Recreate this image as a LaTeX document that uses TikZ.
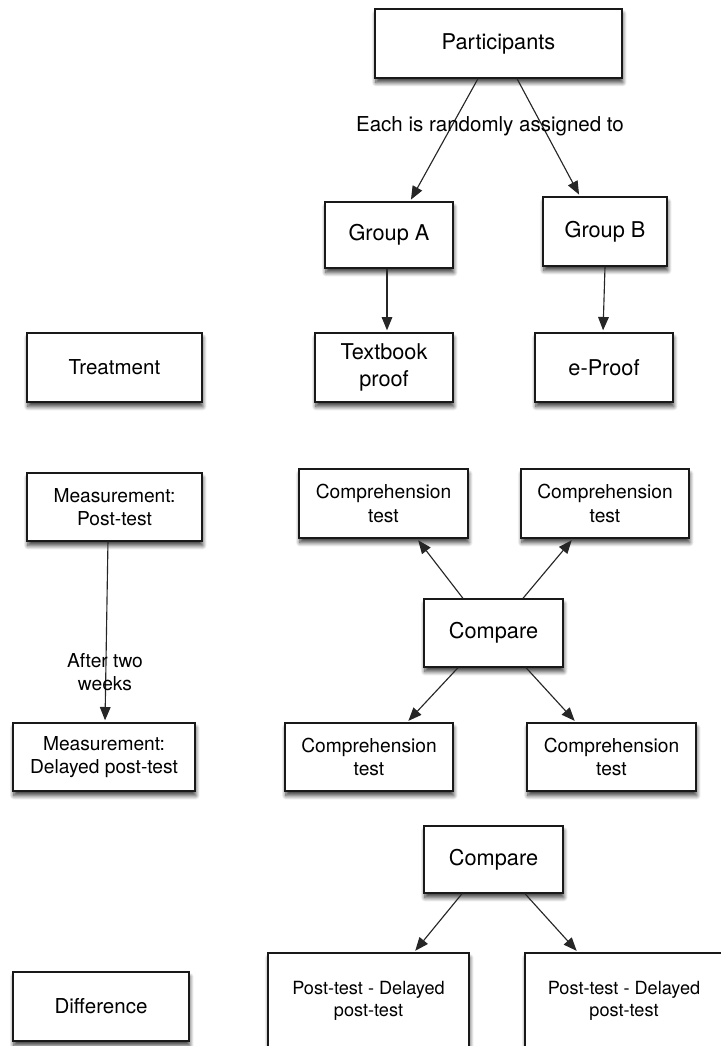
\documentclass[tikz,border=0pt]{standalone}
\usepackage{fontspec}
\setmainfont{TeX Gyre Heros}
\usetikzlibrary{arrows.meta,shadows,shadows.blur}
\begin{document}
\begin{tikzpicture}[x=0.75pt,y=-0.75pt,
  box/.style={draw=black!90, line width=1pt, fill=white, inner sep=0pt, align=center,
     blur shadow={shadow xshift=0.6pt, shadow yshift=-3.5pt, shadow blur radius=3pt, shadow blur steps=10, shadow opacity=75}},
  wh/.style 2 args={minimum width=#1*0.75pt, minimum height=#2*0.75pt},
  fbig/.style={font=\fontsize{16.3}{20.5}\selectfont},
  fmid/.style={font=\fontsize{15.4}{19}\selectfont},
  fsm/.style={font=\fontsize{14.4}{17.5}\selectfont},
  fxs/.style={font=\fontsize{13.6}{16.5}\selectfont},
  arr/.style={draw=black!85, line width=0.85pt, shorten >=1.5pt, -{Triangle[length=10pt,width=8pt]}},
  lbl/.style={inner sep=0pt, align=center}]
\useasboundingbox (0,0) rectangle (721,1046);
\clip (0,0) rectangle (721,1046);

\node[box,wh={247}{69},fbig] (part) at (498.5,43.5) {Participants};
\node[box,wh={128}{66},fbig] (ga) at (389,235) {Group A};
\node[box,wh={124}{69},fbig] (gb) at (605,231.5) {Group B};
\node[box,wh={175}{69},fmid] (treat) at (114.5,367.5) {Treatment};
\node[box,wh={138}{69},fbig] (tb) at (384,367.5) {Textbook\\proof};
\node[box,wh={138}{69},fbig] (ep) at (604,367.5) {e-Proof};
\node[box,wh={175}{68},fsm] (mp) at (114.5,507) {Measurement:\\Post-test};
\node[box,wh={169}{69},fsm] (c1l) at (383.5,503.5) {Comprehension\\test};
\node[box,wh={168}{69},fsm] (c1r) at (605,503.5) {Comprehension\\test};
\node[box,wh={139}{68},fbig] (cmp1) at (493.5,633) {Compare};
\node[box,wh={182}{68},fsm] (md) at (104,757) {Measurement:\\Delayed post-test};
\node[box,wh={168}{68},fsm] (c2l) at (369,757) {Comprehension\\test};
\node[box,wh={169}{68},fsm] (c2r) at (611.5,757) {Comprehension\\test};
\node[box,wh={139}{67},fbig] (cmp2) at (493.5,859.5) {Compare};
\node[box,wh={176}{69},fmid] (diff) at (101,1006.5) {Difference};
\node[box,wh={201}{96},fxs] (pl) at (368.5,1001) {Post-test - Delayed\\post-test};
\node[box,wh={198}{96},fxs] (pr) at (624,1001) {Post-test - Delayed\\post-test};

\draw[arr] ([xshift=-15.4pt]part.south) -- ([xshift=15.75pt]ga.north);
\draw[arr] ([xshift=13.9pt]part.south) -- ([xshift=-18.75pt]gb.north);
\draw[arr] ([xshift=-1.5pt]ga.south) -- ([xshift=2.25pt]tb.north);
\draw[arr] (gb.south) -- ([xshift=-0.75pt]ep.north);
\draw[arr] ([xshift=-4.9pt]mp.south) -- ([xshift=0.75pt]md.north);
\draw[arr] ([xshift=-22.9pt]cmp1.north) -- ([xshift=25.1pt]c1l.south);
\draw[arr] ([xshift=22.1pt]cmp1.north) -- ([xshift=-24pt]c1r.south);
\draw[arr] ([xshift=-26.6pt]cmp1.south) -- ([xshift=28.5pt]c2l.north);
\draw[arr] ([xshift=24.4pt]cmp1.south) -- ([xshift=-26.6pt]c2r.north);
\draw[arr] ([xshift=-23.6pt]cmp2.south) -- ([xshift=34.1pt]pl.north);
\draw[arr] ([xshift=23.6pt]cmp2.south) -- ([xshift=-34.5pt]pr.north);

\node[lbl,fmid] (each) at (490,126) {Each is randomly assigned to};
\node[lbl,fsm] (after) at (105,672) {After two\\weeks};
\end{tikzpicture}
\end{document}
